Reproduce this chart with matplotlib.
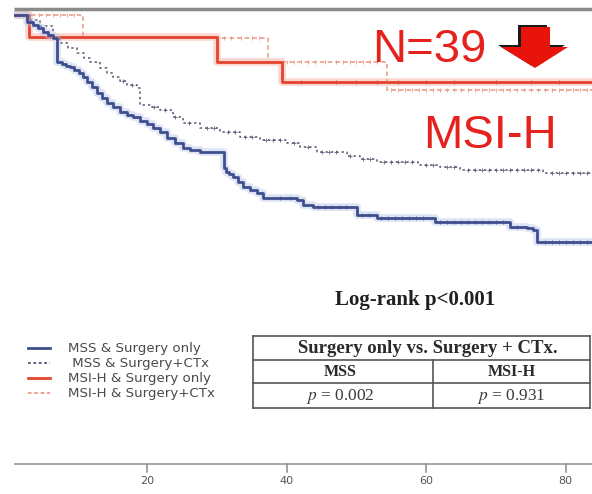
import numpy as np
import matplotlib
matplotlib.use("Agg")
import matplotlib.pyplot as plt
from matplotlib.patches import Polygon

plt.rcParams["mathtext.fontset"] = "stix"

# ---- Kaplan-Meier step data (months, survival probability) ----
mss_surg_t = [0, 2.7, 3.6, 4.3, 5.0, 5.7, 6.5, 7.0, 7.8, 8.3, 8.9, 9.5, 10.2, 10.8, 11.3,
              12.1, 12.8, 13.5, 14.2, 15.1, 16.1, 17.1, 17.9, 18.9, 19.9, 20.8, 21.8,
              22.8, 24.0, 25.1, 26.1, 27.6, 31.0, 31.3, 31.7, 32.3, 33.0, 33.7, 34.7,
              35.7, 36.6, 41.5, 42.3, 43.8, 50.1, 52.9, 61.3, 72.0, 74.5, 75.3, 75.9]
mss_surg_s = [1.0, 0.984, 0.978, 0.971, 0.962, 0.955, 0.949, 0.895, 0.891, 0.886, 0.884,
              0.877, 0.871, 0.862, 0.851, 0.840, 0.826, 0.815, 0.804, 0.795, 0.784, 0.777,
              0.773, 0.764, 0.757, 0.748, 0.739, 0.726, 0.715, 0.704, 0.699, 0.695, 0.659,
              0.650, 0.646, 0.639, 0.628, 0.617, 0.610, 0.604, 0.592, 0.588, 0.577, 0.572,
              0.555, 0.548, 0.539, 0.528, 0.526, 0.521, 0.494]
mss_surg_cens = [39, 40.5, 44.5, 45.5, 46.5, 47.5, 48.5, 50.8, 51.8, 53.5, 54.5, 55.5, 56.5,
                 57.5, 58.5, 59.5, 62, 63, 64, 65, 66, 67, 68, 69, 70, 71, 73, 77, 78, 79,
                 80, 81, 82, 83]

mss_ctx_t = [0, 3.2, 4.6, 6.5, 7.5, 8.6, 9.9, 10.9, 11.8, 13.2, 14.2, 15.1, 16.1, 17.1,
             18.5, 18.9, 20.4, 21.8, 23.7, 25.1, 27.6, 30.4, 33.3, 36.2, 40.0, 41.9, 44.3,
             48.6, 50.5, 52.9, 58.8, 62.0, 64.9, 76.8]
mss_ctx_s = [1.0, 0.989, 0.975, 0.949, 0.938, 0.926, 0.915, 0.904, 0.895, 0.882, 0.871,
             0.862, 0.853, 0.844, 0.837, 0.800, 0.795, 0.788, 0.773, 0.759, 0.748, 0.739,
             0.728, 0.722, 0.715, 0.706, 0.695, 0.686, 0.679, 0.673, 0.666, 0.661, 0.655,
             0.648]
mss_ctx_cens = [16.5, 17.8, 21, 22.5, 24, 26, 28.5, 29.5, 31.5, 32.5, 34, 35, 37, 38, 39,
                41, 43, 45, 46, 47, 49, 51, 52, 54, 55, 56, 57, 58, 60, 61, 63, 64, 66, 67,
                68, 69, 70, 71, 72, 73, 74, 75, 76, 78, 79, 80, 81, 82, 83]

msih_surg_t = [0, 3.0, 30.0, 39.3]
msih_surg_s = [1.0, 0.950, 0.895, 0.851]
msih_surg_cens = [42, 47, 50, 53, 56, 60, 64, 70, 75, 79]

msih_ctx_t = [0, 10.8, 37.3, 54.4]
msih_ctx_s = [1.0, 0.949, 0.895, 0.833]
msih_ctx_cens = [4.5, 5.5, 6.5, 7.5, 8.5, 9.5, 31, 32, 33.5, 35, 36, 40, 41, 42, 43, 44,
                 45.5, 47, 48, 49, 50, 51, 52, 53, 55, 56, 57, 58, 59, 60, 61, 62, 63, 64,
                 65, 66, 67, 68, 69, 70, 71, 72, 73, 74, 75, 76, 77, 78, 79, 80, 81, 82, 83]

x_ticks = [20, 40, 60, 80]
t_end = 84

legend_labels = ["MSS & Surgery only", " MSS & Surgery+CTx",
                 "MSI-H & Surgery only", "MSI-H & Surgery+CTx"]
table_title = "Surgery only vs. Surgery + CTx."
table_groups = ["MSS", "MSI-H"]
table_pvalues = ["0.002", "0.931"]

# ---- figure ----
W, H = 592, 494
fig = plt.figure(figsize=(W / 100, H / 100), dpi=100)
fig.patch.set_facecolor("white")

ax = fig.add_axes([14 / W, 0, 1 - 14 / W, 1])
ax.set_xlim((14 - 8) / 6.97, (W - 8) / 6.97)
ax.set_ylim((464 - H) / 449, 464 / 449)
ax.axis("off")


def km(ax, t, s, cens, color, lw, ls, glow=None, cmark="|", cms=3.5, calpha=0.8):
    tt = list(t) + [t_end]
    ss = list(s) + [s[-1]]
    if glow is not None:
        ax.step(tt, ss, where="post", color=glow, lw=lw + 3.5, alpha=0.45,
                solid_capstyle="butt")
    ax.step(tt, ss, where="post", color=color, lw=lw, linestyle=ls)
    idx = np.searchsorted(t, cens, side="right") - 1
    cy = np.asarray(s)[idx]
    ax.plot(cens, cy, linestyle="none", marker=cmark, ms=cms, mew=0.7, color=color,
            alpha=calpha)


km(ax, msih_ctx_t, msih_ctx_s, msih_ctx_cens, "#ef9482", 1.1, (0, (3, 2)), cms=3.5)
km(ax, msih_surg_t, msih_surg_s, msih_surg_cens, "#e2452f", 2.0, "-", glow="#f7a898",
   cms=3.5)
km(ax, mss_ctx_t, mss_ctx_s, mss_ctx_cens, "#50576f", 1.1, (0, (1.5, 2)), cmark="+",
   cms=3.5)
km(ax, mss_surg_t, mss_surg_s, mss_surg_cens, "#3f4f8e", 2.0, "-", glow="#b8c4ea",
   cms=3.5)

# frame lines and x ticks
ax.plot([ax.get_xlim()[0], ax.get_xlim()[1]], [(464 - 9) / 449] * 2,
        color="#8a8a8a", lw=2.5, solid_capstyle="butt")
ax.plot([ax.get_xlim()[0], ax.get_xlim()[1]], [0, 0], color="#a8a8a8", lw=1.4)
for xt in x_ticks:
    ax.plot([xt, xt], [0, -8 / 449], color="#8a8a8a", lw=1.1)
    ax.text(xt, -17 / 449, str(xt), ha="center", va="center", fontsize=8,
            color="#555555", family="DejaVu Sans")

# ---- annotation layer in pixel units ----
ov = fig.add_axes([0, 0, 1, 1])
ov.set_xlim(0, W)
ov.set_ylim(H, 0)
ov.axis("off")

red = "#e5221d"
ov.text(372, 62, "N=39", fontsize=34, color=red, family="Liberation Sans",
        va="baseline", ha="left")
ov.text(423, 148, "MSI-H", fontsize=34, color=red, family="Liberation Sans",
        va="baseline", ha="left")

arrow = [(521, 27), (550, 27), (550, 47), (568, 47), (535, 68), (501, 47), (521, 47)]
ov.add_patch(Polygon([(x - 3, y - 2) for x, y in arrow], closed=True,
                     facecolor="#1a1a1a", edgecolor="none"))
ov.add_patch(Polygon(arrow, closed=True, facecolor="#e8140c", edgecolor="none"))

ov.text(415, 300, "Log-rank p<0.001", fontsize=15, fontweight="bold",
        family="Liberation Serif", ha="center", va="center", color="#202020")

# legend
leg_y = [348, 363, 378, 393]
leg_styles = [("#3f4f8e", "-", 2.0), ("#4d5478", (0, (1.5, 1.5)), 1.3),
              ("#e2452f", "-", 2.0), ("#ef9a88", (0, (2, 1.5)), 1.3)]
for y, lab, (c, ls, lw) in zip(leg_y, legend_labels, leg_styles):
    ov.plot([28, 50], [y, y], color=c, linestyle=ls, lw=lw)
    ov.text(68, y, lab, fontsize=9.6, color="#4a4a4a", family="DejaVu Sans",
            va="center", ha="left")

# table
tc = "#555555"
x0, x1, xm = 253, 590, 433
ys = [336, 360, 383, 408]
for y in ys:
    ov.plot([x0, x1], [y, y], color=tc, lw=1.2)
ov.plot([x0, x0], [ys[0], ys[-1]], color=tc, lw=1.2)
ov.plot([x1, x1], [ys[0], ys[-1]], color=tc, lw=1.2)
ov.plot([xm, xm], [ys[1], ys[-1]], color=tc, lw=1.2)
ov.text(428, (ys[0] + ys[1]) / 2, table_title, fontsize=13.5,
        fontweight="bold", family="Liberation Serif", ha="center", va="center",
        color="#2a2a2a")
centers = [(x0 + xm) / 2 - 3, (xm + x1) / 2]
for cx, g, pv in zip(centers, table_groups, table_pvalues):
    ov.text(cx, (ys[1] + ys[2]) / 2, g, fontsize=11.5, fontweight="bold",
            family="Liberation Serif", ha="center", va="center", color="#2a2a2a")
    ov.text(cx, (ys[2] + ys[3]) / 2 + 1, "$p$ = " + pv, fontsize=12.5,
            family="Liberation Serif", ha="center", va="center", color="#3a3a3a")

fig.savefig("out.png", dpi=100, facecolor="white")
